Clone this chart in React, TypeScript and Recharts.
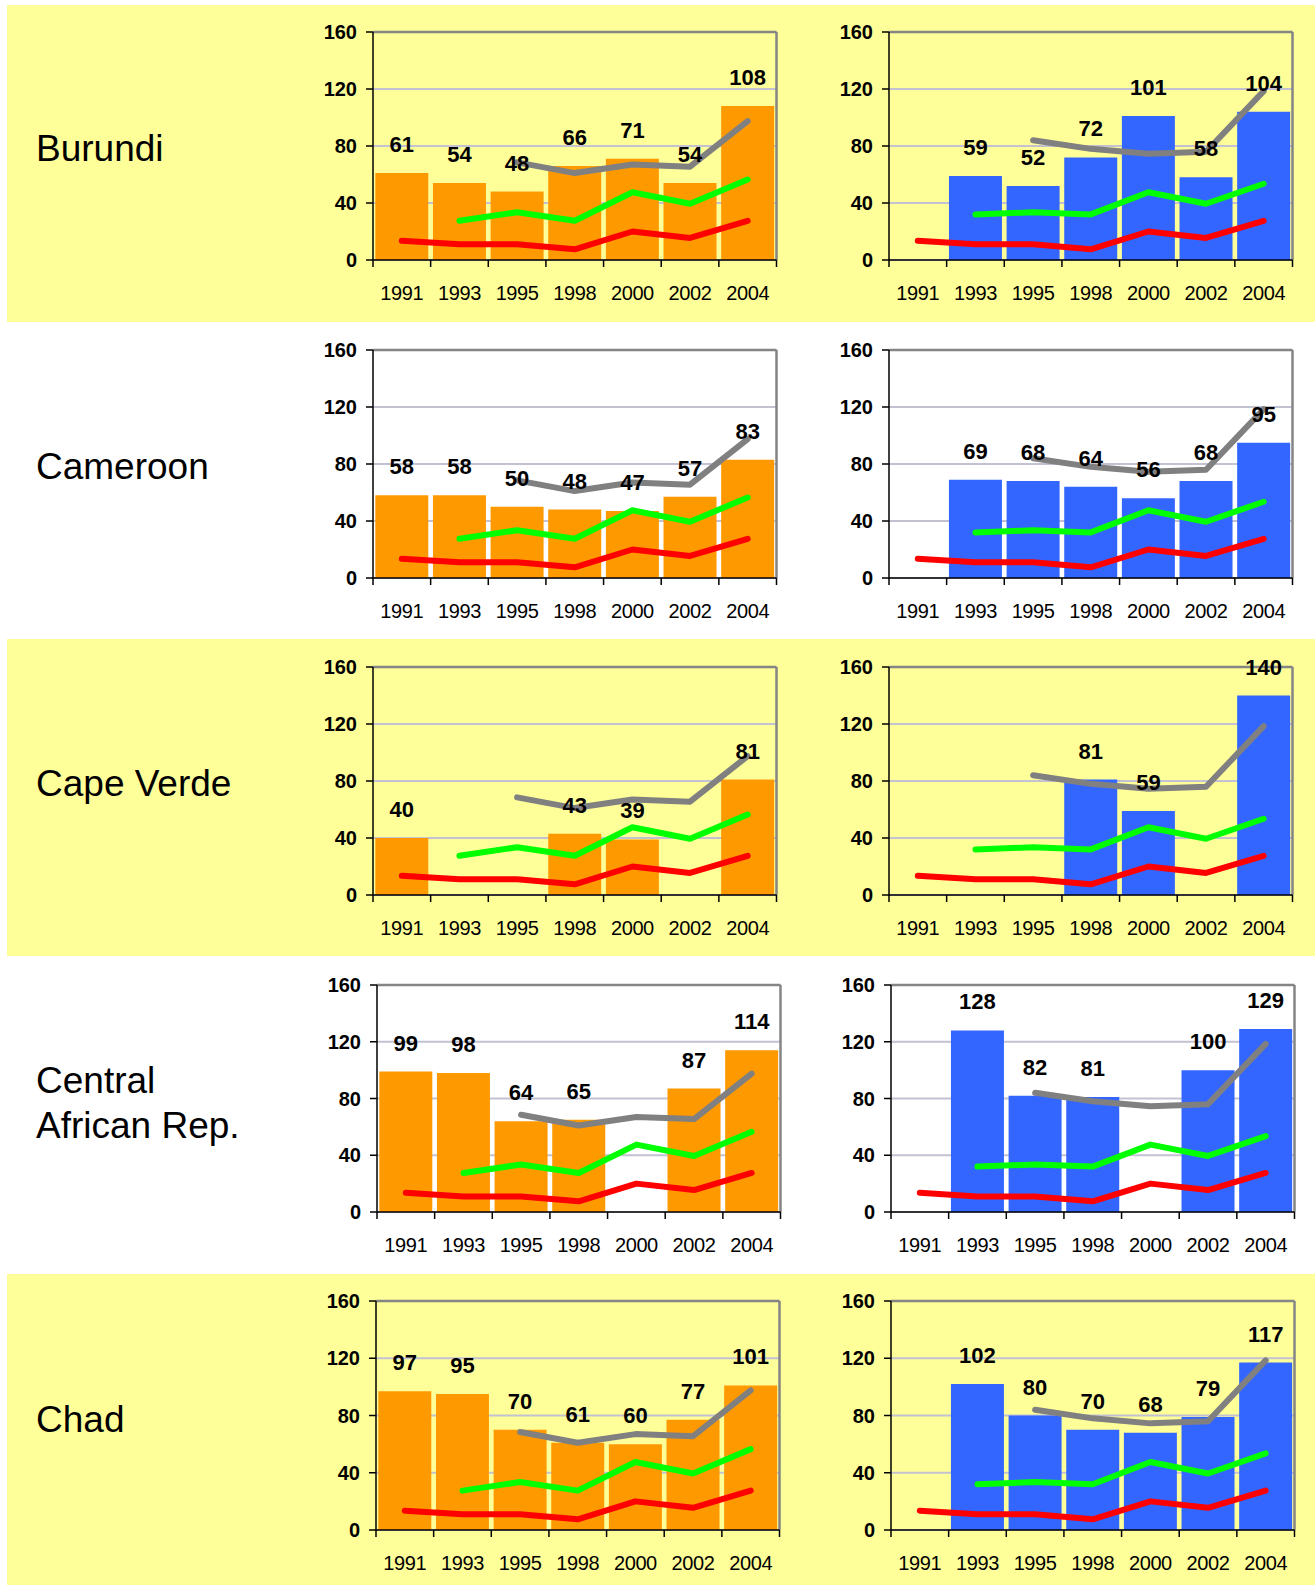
import React from "react";
import {
  ComposedChart,
  Bar,
  Line,
  XAxis,
  YAxis,
  CartesianGrid,
  LabelList,
} from "recharts";

const YEARS = ["1991", "1993", "1995", "1998", "2000", "2002", "2004"];
const Y_TICKS = [0, 40, 80, 120, 160];

// reference lines, identical on every panel of a column
const RED = [13.5, 11, 11, 7.5, 20, 15.5, 27.5];
const GREEN_LEFT = [null, 27.5, 33.5, 27.5, 47.5, 39.5, 56.5];
const GREEN_RIGHT = [null, 32, 33.5, 32, 47.5, 39.5, 53.5];
const GREY_LEFT = [null, null, 68.5, 61, 67, 65.5, 97.5];
const GREY_RIGHT = [null, null, 84, 78, 74.5, 76, 118.5];

const COUNTRIES = ["Burundi", "Cameroon", "Cape Verde", "Central\nAfrican Rep.", "Chad"];

const BURUNDI_LEFT = [61, 54, 48, 66, 71, 54, 108];
const BURUNDI_RIGHT = [null, 59, 52, 72, 101, 58, 104];
const CAMEROON_LEFT = [58, 58, 50, 48, 47, 57, 83];
const CAMEROON_RIGHT = [null, 69, 68, 64, 56, 68, 95];
const CAPE_VERDE_LEFT = [40, null, null, 43, 39, null, 81];
const CAPE_VERDE_RIGHT = [null, null, null, 81, 59, null, 140];
const CAR_LEFT = [99, 98, 64, 65, null, 87, 114];
const CAR_RIGHT = [null, 128, 82, 81, null, 100, 129];
const CHAD_LEFT = [97, 95, 70, 61, 60, 77, 101];
const CHAD_RIGHT = [null, 102, 80, 70, 68, 79, 117];

const LEFT_BARS = [BURUNDI_LEFT, CAMEROON_LEFT, CAPE_VERDE_LEFT, CAR_LEFT, CHAD_LEFT];
const RIGHT_BARS = [BURUNDI_RIGHT, CAMEROON_RIGHT, CAPE_VERDE_RIGHT, CAR_RIGHT, CHAD_RIGHT];

// page layout
const ROW_TOPS = [5, 322, 639, 956, 1274];
const ROW_H = [317, 317, 317, 318, 311];
const PLOT_TOPS = [32, 350, 667, 985, 1301];
const PLOT_H = [228, 228, 228, 227, 229];
const LEFT_X = [372.5, 372.5, 372.5, 377, 376];
const RIGHT_X = [888.5, 888.5, 888.5, 891, 891];
const LABEL_BASE = [161, 479, 796, 1093, 1432];
const PLOT_W = 403.5;
const M_TOP = 40;
const M_RIGHT = 12;
const Y_W = 70;
const X_H = 60;

const ORANGE = "#FF9900";
const BLUE = "#3366FF";
const YELLOW = "#FFFF99";
const FRAME = "#858585";

function YearTick(props: any) {
  const { x, y, payload, index, band } = props;
  const left = x - band / 2;
  return (
    <g>
      <line x1={left} y1={y} x2={left} y2={y + 7} stroke="#000" strokeWidth={1.5} />
      {index === YEARS.length - 1 && (
        <line x1={x + band / 2} y1={y} x2={x + band / 2} y2={y + 7} stroke="#000" strokeWidth={1.5} />
      )}
      <text x={x} y={y + 40} textAnchor="middle" fontSize={20} fill="#000" letterSpacing={-0.4}>
        {payload.value}
      </text>
    </g>
  );
}

function Panel({ bars, green, grey, color, plotX, plotTop, plotH }: any) {
  const data = YEARS.map((year, i) => ({
    year,
    bar: bars[i],
    red: RED[i],
    green: green[i],
    grey: grey[i],
  }));
  const band = PLOT_W / YEARS.length;
  const lineProps = {
    strokeWidth: 6,
    dot: false,
    activeDot: false,
    strokeLinejoin: "round" as const,
    strokeLinecap: "round" as const,
    isAnimationActive: false,
  };
  return (
    <div style={{ position: "absolute", left: plotX - Y_W, top: plotTop - M_TOP }}>
      <ComposedChart
        width={Y_W + PLOT_W + M_RIGHT}
        height={M_TOP + plotH + X_H}
        data={data}
        margin={{ top: M_TOP, right: M_RIGHT, bottom: 0, left: 0 }}
        barCategoryGap="4%"
      >
        <CartesianGrid vertical={false} stroke="#C2C2D2" strokeWidth={2} />
        {/* grey frame on the top and right of the plot */}
        <CartesianGrid
          stroke={FRAME}
          strokeWidth={2.5}
          horizontalCoordinatesGenerator={({ offset }: any) => [offset.top]}
          verticalCoordinatesGenerator={({ offset }: any) => [offset.left + offset.width]}
        />
        <XAxis
          dataKey="year"
          height={X_H}
          interval={0}
          tickSize={0}
          tickMargin={0}
          tickLine={false}
          axisLine={{ stroke: "#000", strokeWidth: 1.5 }}
          tick={<YearTick band={band} />}
        />
        <YAxis
          domain={[0, 160]}
          ticks={Y_TICKS}
          interval={0}
          width={Y_W}
          tickSize={7}
          tickMargin={9}
          tick={{ fill: "#000", fontSize: 20, fontWeight: 700 }}
          tickLine={{ stroke: "#000", strokeWidth: 1.5 }}
          axisLine={{ stroke: "#000", strokeWidth: 1.5 }}
        />
        <Bar dataKey="bar" fill={color} isAnimationActive={false} />
        <Line dataKey="red" stroke="#FF0000" {...lineProps} />
        <Line dataKey="green" stroke="#00FF00" {...lineProps} />
        <Line dataKey="grey" stroke="#808080" {...lineProps} />
        {/* carries the bar values so they print above the lines */}
        <Line dataKey="bar" stroke="none" dot={false} activeDot={false} legendType="none" isAnimationActive={false}>
          <LabelList dataKey="bar" position="top" offset={21} fill="#000" fontSize={22} fontWeight={700} />
        </Line>
      </ComposedChart>
    </div>
  );
}

export default function App() {
  return (
    <div
      style={{
        position: "absolute",
        left: 0,
        top: 0,
        width: 1316,
        height: 1585,
        background: "#fff",
        overflow: "hidden",
        fontFamily: "'Liberation Sans', Arial, sans-serif",
      }}
    >
      {COUNTRIES.map((name, r) => (
        <React.Fragment key={name}>
          {r % 2 === 0 && (
            <div
              style={{
                position: "absolute",
                left: 7,
                top: ROW_TOPS[r],
                width: 1308,
                height: ROW_H[r],
                background: YELLOW,
              }}
            />
          )}
          <div
            style={{
              position: "absolute",
              left: 36,
              top: LABEL_BASE[r] - 35,
              fontSize: 37,
              lineHeight: "45px",
              whiteSpace: "pre",
              color: "#000",
            }}
          >
            {name}
          </div>
          <Panel
            bars={LEFT_BARS[r]}
            green={GREEN_LEFT}
            grey={GREY_LEFT}
            color={ORANGE}
            plotX={LEFT_X[r]}
            plotTop={PLOT_TOPS[r]}
            plotH={PLOT_H[r]}
          />
          <Panel
            bars={RIGHT_BARS[r]}
            green={GREEN_RIGHT}
            grey={GREY_RIGHT}
            color={BLUE}
            plotX={RIGHT_X[r]}
            plotTop={PLOT_TOPS[r]}
            plotH={PLOT_H[r]}
          />
        </React.Fragment>
      ))}
    </div>
  );
}
